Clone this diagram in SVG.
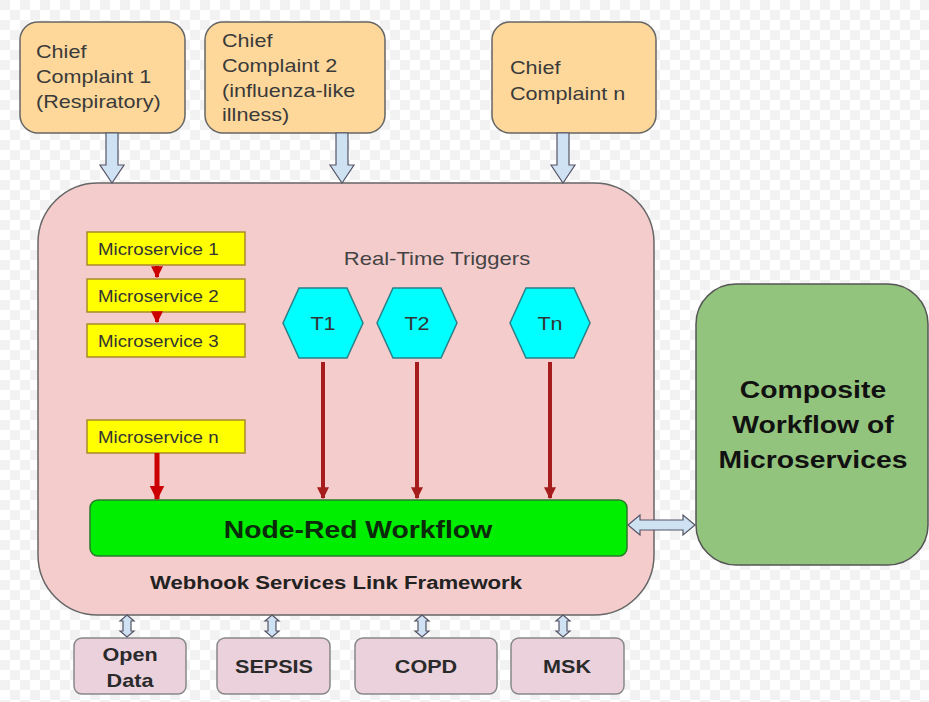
<svg xmlns="http://www.w3.org/2000/svg" width="929" height="702" viewBox="0 0 929 702">
<defs>
<pattern id="chk" width="20" height="20" patternUnits="userSpaceOnUse">
<rect width="20" height="20" fill="#ffffff"/>
<rect width="10" height="10" fill="#f2f2f2"/>
<rect x="10" y="10" width="10" height="10" fill="#f2f2f2"/>
</pattern>
<marker id="rh" viewBox="0 0 10 10" refX="9" refY="5" markerWidth="3" markerHeight="3" orient="auto">
<path d="M0,0 L10,5 L0,10 z" fill="#a61c1c"/>
</marker>
<marker id="rh2" viewBox="0 0 10 10" refX="9" refY="5" markerWidth="3" markerHeight="3" orient="auto">
<path d="M0,0 L10,5 L0,10 z" fill="#cc0000"/>
</marker>
</defs>
<style>
.cc{fill:#fdd89a;stroke:#666;stroke-width:1.5}
.cct{font-family:"Liberation Sans",Arial,sans-serif;font-size:18px;fill:#3a3a3a}
.ms{fill:#ffff00;stroke:#a88a2a;stroke-width:1.5}
.mst{font-family:"Liberation Sans",Arial,sans-serif;font-size:16px;fill:#333}
.hex{fill:#00ffff;stroke:#2b7f86;stroke-width:1.5}
.hext{font-family:"Liberation Sans",Arial,sans-serif;font-size:18px;fill:#333;text-anchor:middle}
.bb{fill:#ead1dc;stroke:#888;stroke-width:1.5}
.bbt{font-family:"Liberation Sans",Arial,sans-serif;font-size:18px;font-weight:bold;fill:#2a2a2a;text-anchor:middle}
.blk{fill:#cfe2f3;stroke:#556;stroke-width:1.2}
.trig{stroke:#a61c1c;stroke-width:4;fill:none}
</style>
<rect width="929" height="702" fill="url(#chk)"/>

<g id="framework">
<rect x="38" y="183" width="616" height="432" rx="60" fill="#f4cccc" stroke="#666" stroke-width="1.5"/>
<text transform="translate(437,265) scale(1.16,1)" font-family="Liberation Sans, Arial, sans-serif" font-size="19" fill="#444" text-anchor="middle">Real-Time Triggers</text>
<text transform="translate(336,589) scale(1.23,1)" font-family="Liberation Sans, Arial, sans-serif" font-size="18" font-weight="bold" fill="#222" text-anchor="middle">Webhook Services Link Framework</text>
</g>

<g id="cc1"><rect class="cc" x="20" y="22" width="165" height="111" rx="18"/>
<text class="cct" transform="translate(36,0) scale(1.2,1)"><tspan x="0" y="58">Chief</tspan><tspan x="0" y="83">Complaint 1</tspan><tspan x="0" y="108">(Respiratory)</tspan></text></g>
<g id="cc2"><rect class="cc" x="205" y="22" width="180" height="111" rx="18"/>
<text class="cct" transform="translate(222,0) scale(1.2,1)"><tspan x="0" y="47">Chief</tspan><tspan x="0" y="72">Complaint 2</tspan><tspan x="0" y="97">(influenza-like</tspan><tspan x="0" y="121">illness)</tspan></text></g>
<g id="ccn"><rect class="cc" x="492" y="22" width="164" height="111" rx="18"/>
<text class="cct" transform="translate(510,0) scale(1.2,1)"><tspan x="0" y="74">Chief</tspan><tspan x="0" y="100">Complaint  n</tspan></text></g>

<g id="ms1"><rect class="ms" x="87" y="232" width="158" height="33"/><text class="mst" transform="translate(98,255) scale(1.17,1)">Microservice 1</text></g>
<g id="ms2"><rect class="ms" x="87" y="279" width="158" height="33"/><text class="mst" transform="translate(98,302) scale(1.17,1)">Microservice 2</text></g>
<g id="ms3"><rect class="ms" x="87" y="324" width="158" height="33"/><text class="mst" transform="translate(98,347) scale(1.17,1)">Microservice 3</text></g>
<g id="msn"><rect class="ms" x="87" y="420" width="158" height="33"/><text class="mst" transform="translate(98,443) scale(1.17,1)">Microservice n</text></g>

<g id="t1"><polygon class="hex" points="283,323 299,288 347,288 363,323 347,358 299,358"/><text class="hext" transform="translate(323,330) scale(1.2,1)">T1</text></g>
<g id="t2"><polygon class="hex" points="377,323 393,288 441,288 457,323 441,358 393,358"/><text class="hext" transform="translate(417,330) scale(1.2,1)">T2</text></g>
<g id="tn"><polygon class="hex" points="510,323 526,288 574,288 590,323 574,358 526,358"/><text class="hext" transform="translate(550,330) scale(1.2,1)">Tn</text></g>

<g id="nodered"><rect x="90" y="500" width="537" height="56" rx="8" fill="#00ee00" stroke="#2a7a2a" stroke-width="1.5"/>
<text transform="translate(358,538) scale(1.18,1)" font-family="Liberation Sans, Arial, sans-serif" font-size="24" font-weight="bold" fill="#0a2a0a" text-anchor="middle">Node-Red Workflow</text></g>

<g id="composite"><rect x="696" y="284" width="232" height="281" rx="40" fill="#93c47d" stroke="#555" stroke-width="1.5"/>
<text transform="translate(813,0) scale(1.18,1)" font-family="Liberation Sans, Arial, sans-serif" font-size="24" font-weight="bold" fill="#111" text-anchor="middle"><tspan x="0" y="398">Composite</tspan><tspan x="0" y="433">Workflow of</tspan><tspan x="0" y="468">Microservices</tspan></text></g>

<g id="opendata"><rect class="bb" x="74" y="638" width="112" height="56" rx="8"/><text class="bbt" transform="translate(130,0) scale(1.2,1)"><tspan x="0" y="661">Open</tspan><tspan x="0" y="687">Data</tspan></text></g>
<g id="sepsis"><rect class="bb" x="217" y="638" width="113" height="56" rx="8"/><text class="bbt" transform="translate(274,673) scale(1.2,1)">SEPSIS</text></g>
<g id="copd"><rect class="bb" x="355" y="638" width="142" height="56" rx="8"/><text class="bbt" transform="translate(426,673) scale(1.2,1)">COPD</text></g>
<g id="msk"><rect class="bb" x="511" y="638" width="113" height="56" rx="8"/><text class="bbt" transform="translate(567,673) scale(1.2,1)">MSK</text></g>

<g id="connectors">
<path class="blk" d="M106,133 h12 v32 h6 l-12,18 l-12,-18 h6 z"/>
<path class="blk" d="M336,133 h12 v32 h6 l-12,18 l-12,-18 h6 z"/>
<path class="blk" d="M557,133 h12 v32 h6 l-12,18 l-12,-18 h6 z"/>
<line x1="157" y1="266" x2="157" y2="277" stroke="#cc0000" stroke-width="4" marker-end="url(#rh2)"/>
<line x1="157" y1="313" x2="157" y2="322" stroke="#cc0000" stroke-width="4" marker-end="url(#rh2)"/>
<line x1="157" y1="453" x2="157" y2="499" stroke="#cc0000" stroke-width="5" marker-end="url(#rh2)"/>
<line class="trig" x1="323" y1="362" x2="323" y2="498" marker-end="url(#rh)"/>
<line class="trig" x1="417" y1="362" x2="417" y2="498" marker-end="url(#rh)"/>
<line class="trig" x1="550" y1="362" x2="550" y2="498" marker-end="url(#rh)"/>
<path class="blk" d="M628,525 l12,-10 v5 h43 v-5 l12,10 l-12,10 v-5 h-43 v5 z"/>
<path class="blk" d="M127,615 l7,6 h-3 v10 h3 l-7,6 l-7,-6 h3 v-10 h-3 z"/>
<path class="blk" d="M272,615 l7,6 h-3 v10 h3 l-7,6 l-7,-6 h3 v-10 h-3 z"/>
<path class="blk" d="M422,615 l7,6 h-3 v10 h3 l-7,6 l-7,-6 h3 v-10 h-3 z"/>
<path class="blk" d="M563,615 l7,6 h-3 v10 h3 l-7,6 l-7,-6 h3 v-10 h-3 z"/>
</g>
</svg>
